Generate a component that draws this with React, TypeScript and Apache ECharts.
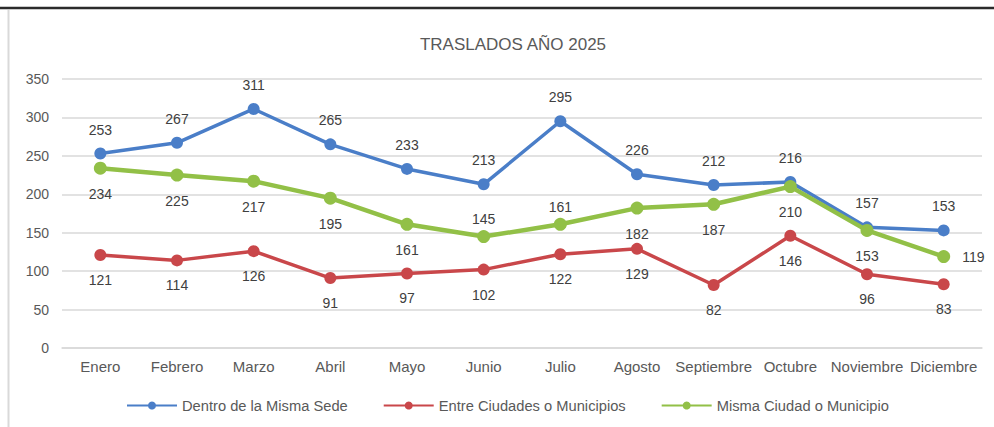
import React, { useEffect, useRef } from "react";
import * as echarts from "echarts";

const months = ["Enero", "Febrero", "Marzo", "Abril", "Mayo", "Junio", "Julio", "Agosto", "Septiembre", "Octubre", "Noviembre", "Diciembre"];
const dentroSede = [253, 267, 311, 265, 233, 213, 295, 226, 212, 216, 157, 153];
const entreCiudades = [121, 114, 126, 91, 97, 102, 122, 129, 82, 146, 96, 83];
const mismaCiudad = [234, 225, 217, 195, 161, 145, 161, 182, 187, 210, 153, 119];
const yTicks = [0, 50, 100, 150, 200, 250, 300, 350];
const seriesNames = ["Dentro de la Misma Sede", "Entre Ciudades o Municipios", "Misma Ciudad o Municipio"];

const FONT = "Liberation Sans, Arial, sans-serif";

export default function App() {
  const ref = useRef<HTMLDivElement>(null);
  useEffect(() => {
    if (!ref.current) return;
    const chart = echarts.init(ref.current, undefined, { renderer: "svg" });
    const labelBase = { show: true, fontSize: 14, color: "#404040", fontFamily: FONT };
    const greenData = mismaCiudad.map((v, i) => {
      if (i === 5 || i === 6) return { value: v, label: { position: "top", distance: 4 } };
      if (i === 11) return { value: v, label: { position: "right", distance: 12 } };
      return { value: v };
    });
    chart.setOption({
      animation: false,
      backgroundColor: "#ffffff",
      title: {
        text: "TRASLADOS AÑO 2025",
        left: 508,
        top: 31,
        textAlign: "center",
        textStyle: { fontSize: 17, fontWeight: "normal", color: "#595959", fontFamily: FONT },
      },
      graphic: [
        { type: "line", shape: { x1: 0, y1: 8, x2: 994, y2: 8 }, style: { stroke: "#2b2b2b", lineWidth: 2.5 } },
        { type: "line", shape: { x1: 8.5, y1: 10, x2: 8.5, y2: 427 }, style: { stroke: "#d9d9d9", lineWidth: 2 } },
      ],
      legend: {
        data: seriesNames,
        bottom: 9,
        left: 121,
        itemWidth: 50,
        itemHeight: 10,
        itemGap: 35,
        textStyle: { fontSize: 14.7, color: "#595959", fontFamily: FONT },
      },
      grid: { left: 62, right: 12, top: 79, bottom: 79, containLabel: false },
      xAxis: {
        type: "category",
        data: months,
        boundaryGap: true,
        axisLine: { show: true, lineStyle: { color: "#d9d9d9", width: 1.5 } },
        axisTick: { show: false },
        axisLabel: { fontSize: 15, color: "#595959", fontFamily: FONT, margin: 11, interval: 0 },
      },
      yAxis: {
        type: "value",
        min: yTicks[0],
        max: yTicks[yTicks.length - 1],
        interval: 50,
        axisLine: { show: false },
        axisTick: { show: false },
        splitLine: { lineStyle: { color: "#d9d9d9", width: 1.5 } },
        axisLabel: { fontSize: 14, color: "#595959", fontFamily: FONT, margin: 13 },
      },
      series: [
        {
          name: seriesNames[0],
          type: "line",
          data: dentroSede,
          color: "#4a7ec8",
          lineStyle: { width: 3.5 },
          symbol: "circle",
          symbolSize: 12,
          label: { ...labelBase, position: "top", distance: 11 },
          z: 3,
        },
        {
          name: seriesNames[1],
          type: "line",
          data: entreCiudades,
          color: "#c9474a",
          lineStyle: { width: 3.5 },
          symbol: "circle",
          symbolSize: 12,
          label: { ...labelBase, position: "bottom", distance: 12 },
          z: 2,
        },
        {
          name: seriesNames[2],
          type: "line",
          data: greenData,
          color: "#92c047",
          lineStyle: { width: 4.5 },
          symbol: "circle",
          symbolSize: 13,
          label: { ...labelBase, position: "bottom", distance: 12 },
          z: 4,
        },
      ],
    });
    return () => chart.dispose();
  }, []);
  return <div ref={ref} style={{ position: "fixed", left: 0, top: 0, width: 994, height: 427 }} />;
}
